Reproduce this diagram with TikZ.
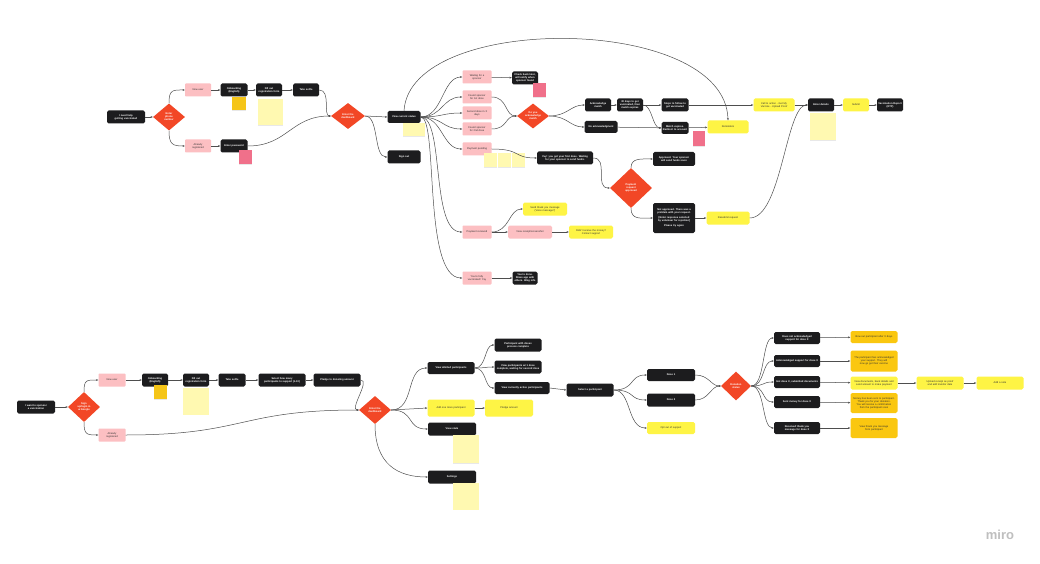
\documentclass[tikz,border=0pt]{standalone}
\usepackage{fontspec}
\setmainfont{Liberation Sans}
\usetikzlibrary{shapes.geometric,arrows.meta,shadows}
\hyphenpenalty=10000
\exhyphenpenalty=10000
\definecolor{ink}{HTML}{1C1C1E}
\definecolor{txt}{HTML}{333333}
\definecolor{pinkbox}{HTML}{FCBFC2}
\definecolor{dred}{HTML}{F24726}
\definecolor{yel}{HTML}{FEF445}
\definecolor{orgy}{HTML}{FAC710}
\definecolor{stky}{HTML}{FFF9B1}
\definecolor{stkp}{HTML}{F0708A}
\definecolor{stko}{HTML}{F5C518}
\definecolor{lgray}{HTML}{4E4E4E}
\tikzset{
  base/.style={rounded corners=1.6pt, align=center, inner xsep=1pt, inner ysep=0.4pt,
    minimum height=13, font=\fontsize{2.55}{3}\selectfont},
  blk/.style={base, fill=ink, text=white, font=\bfseries\fontsize{2.55}{3}\selectfont},
  pnk/.style={base, fill=pinkbox, text=txt, rounded corners=0.8pt},
  yelbox/.style={base, fill=yel, text=txt},
  orgbox/.style={base, fill=orgy, text=txt},
  w/.code={\pgfmathsetlengthmacro\nodetw{#1-2}\pgfkeysalso{text width/.expanded=\nodetw, minimum width=#1}},
  h/.style={minimum height=#1},
  dia/.style 2 args={diamond, fill=dred, text=white, align=center, inner sep=0pt,
    minimum width=#1, minimum height=#2, font=\bfseries\fontsize{2.55}{3}\selectfont},
  stk/.style 2 args={rectangle, inner sep=0pt, minimum width=#1, minimum height=#2,
    drop shadow={opacity=0.18, shadow xshift=0.3pt, shadow yshift=-0.9pt}},
  con/.style={draw=lgray, line width=0.5pt, -{Stealth[length=2.3pt,width=1.9pt]}},
}
\begin{document}
\begin{tikzpicture}[x=1pt,y=-1pt]
\useasboundingbox (0,0) rectangle (1040,564);
\fill[white] (0,0) rectangle (1040,564);

% ---------------- patient journey ----------------
\node[blk, w=38] (loved) at (126,117) {I need help getting vaccinated};
\node[dia={32}{27}] (d1) at (169,117) {Enter\\phone\\number};
\node[pnk, w=26] (newuser1) at (198,90) {New user};
\node[pnk, w=26] (already1) at (198,146) {Already\\registered};
\node[blk, w=27] (onb1) at (234,90) {Onboarding\\(English)};
\node[blk, w=26] (fill1) at (269,90) {Fill out\\registration form};
\node[blk, w=26] (selfie1) at (306,90) {Take selfie};
\node[blk, w=27] (pass1) at (234,146) {Enter password};
\node[stk={14}{13}, fill=stko] (n1) at (239,104) {};
\node[stk={25}{26}, fill=stky] (n2) at (270,112) {};
\node[stk={13}{14}, fill=stkp] (n3) at (245,157) {};

\node[dia={34}{26}] (d2) at (348,116) {Enter the\\dashboard};
\node[blk, w=33, h=12] (status) at (404,117) {View current status};
\node[stk={22}{13}, fill=stky] (n4) at (414,130) {};
\node[blk, w=33] (signout) at (404,157) {Sign out};

\node[pnk, w=29] (waiting) at (477,77) {Waiting for a\\sponsor};
\node[pnk, w=29] (found1) at (477,97) {Found sponsor\\for 1st dose};
\node[pnk, w=29] (second) at (477,113) {Second dose in X\\days};
\node[pnk, w=29] (found2) at (477,129) {Found sponsor\\for 2nd dose};
\node[pnk, w=29] (pending) at (477,149) {Payment pending};
\node[pnk, w=29] (received) at (477,232) {Payment received};
\node[pnk, w=29] (fully) at (477,278) {You're fully\\vaccinated! Yay};

\node[blk, w=26] (check) at (525,78) {Check back later,\\will notify when\\sponsor found};
\node[stk={13}{14}, fill=stkp] (n5) at (539,90) {};
\node[dia={32}{25}] (d3) at (533,116) {Do you\\acknowledge\\match};
\node[blk, w=26] (ack) at (598,105) {Acknowledge\\match};
\node[blk, w=33, h=12] (noack) at (601,127) {No acknowledgment};
\node[blk, w=26] (thirty) at (630,105) {30 days to get\\vaccinated, then\\match expires};
\node[blk, w=27] (steps) at (675,105) {Steps to follow to\\get vaccinated};
\node[blk, w=27, h=12] (expires) at (675,128) {Match expires. Redirect to account};
\node[stk={12}{15}, fill=stkp] (n6) at (699,139) {};
\node[yelbox, w=41] (reminders) at (728,127) {Reminders};
\node[yelbox, w=41] (cta) at (774,105) {Call to action - Get My\\Vaccine - Upload Proof};
\node[blk, w=26] (details) at (821,105) {Enter details};
\node[stk={26}{27}, fill=stky] (n7) at (823,127) {};
\node[yelbox, w=26] (submit) at (856,105) {Submit};
\node[blk, w=26] (report) at (890,105) {Vaccination Report\\(OTP)};

\node[stk={13}{14}, fill=stky] (n8) at (490,160) {};
\node[stk={13}{14}, fill=stky] (n9) at (504,160) {};
\node[stk={13}{14}, fill=stky] (n10) at (518,160) {};
\node[blk, w=56] (yay) at (565,158) {Yay! you got your first dose. Waiting for your sponsor to send funds.};
\node[dia={42}{40}] (d4) at (631,188) {Payment\\request\\approved};
\node[blk, w=42, h=14] (approved) at (674,159) {Approved. Your sponsor will send funds soon};
\node[blk, w=42, h=30] (notapp) at (674,218) {Not approved. There was a problem with your request.\\[2pt][Enter response selected by volunteer for rejection]\\[2pt]Please try again};
\node[yelbox, w=43] (resubmit) at (728,218) {Resubmit request};
\node[yelbox, w=44] (thanks) at (545,209) {Send thank you message\\(Voice message?)};
\node[pnk, w=44, rounded corners=1.6pt] (receipt) at (530,232) {View receipt/screenshot};
\node[yelbox, w=44] (didnt) at (591,232) {Didn't receive the money?\\Contact support};
\node[blk, w=25] (done) at (525,278) {You're done.\\Share app with\\others. Blog info};

% connectors
\draw[con] (loved) -- (d1);
\draw[con] (d1.north) .. controls +(0,-14) and +(-12,0) .. (newuser1.west);
\draw[con] (d1.south) .. controls +(0,14) and +(-12,0) .. (already1.west);
\draw[con] (newuser1) -- (onb1);
\draw[con] (onb1) -- (fill1);
\draw[con] (fill1) -- (selfie1);
\draw[con] (already1) -- (pass1);
\draw[con] (selfie1.east) .. controls +(12,0) and +(-8,0) .. (d2.west);
\draw[con] (pass1.east) .. controls +(40,0) and +(-40,0) .. (d2.west);
\draw[con] (d2.east) -- (status.west);
\draw[con] (d2.east) .. controls +(14,0) and +(-14,0) .. (signout.west);

\draw[con] (status.east) .. controls +(22,0) and +(-20,0) .. (waiting.west);
\draw[con] (status.east) .. controls +(22,0) and +(-20,0) .. (found1.west);
\draw[con] (status.east) .. controls +(22,0) and +(-20,0) .. (second.west);
\draw[con] (status.east) .. controls +(22,0) and +(-20,0) .. (found2.west);
\draw[con] (status.east) .. controls +(22,0) and +(-20,0) .. (pending.west);
\draw[con] (status.east) .. controls +(24,0) and +(-32,0) .. (received.west);
\draw[con] (status.east) .. controls +(18,0) and +(-40,0) .. (fully.west);
\draw[con] (status.north) .. controls (410,12) and (725,14) .. (reminders.north);

\draw[con] (waiting) -- (check);
\draw[con] (found1.east) .. controls +(16,0) and +(-12,0) .. (d3.west);
\draw[con] (found2.east) .. controls +(16,0) and +(-12,0) .. (d3.west);
\draw[con] (d3.east) .. controls +(18,0) and +(-14,0) .. (ack.west);
\draw[con] (d3.east) .. controls +(18,0) and +(-14,0) .. (noack.west);
\draw[con] (ack) -- (thirty);
\draw[con] (thirty) -- (steps);
\draw[con] (thirty.east) .. controls +(9,0) and +(-9,0) .. (expires.west);
\draw[con] (noack) -- (expires);
\draw[con] (expires) -- (reminders);
\draw[con] (steps) -- (cta);
\draw[con] (cta) -- (details);
\draw[con] (details) -- (submit);
\draw[con] (submit) -- (report);
\draw[con] (resubmit.east) .. controls +(32,0) and +(-22,0) .. (details.west);

\draw[con] (pending.east) .. controls +(30,0) and +(-24,0) .. (yay.west);
\draw[con] (yay.east) .. controls +(16,0) and +(-16,0) .. (d4.west);
\draw[con] (d4.north) .. controls +(0,-10) and +(-12,0) .. (approved.west);
\draw[con] (d4.south) .. controls +(0,12) and +(-12,0) .. (notapp.west);
\draw[con] (notapp) -- (resubmit);
\draw[con] (received.east) .. controls +(18,0) and +(-14,0) .. (thanks.west);
\draw[con] (received) -- (receipt);
\draw[con] (receipt) -- (didnt);
\draw[con] (fully) -- (done);

% ---------------- sponsor journey ----------------
\node[blk, w=38] (sponsor) at (36,407) {I want to sponsor a vaccination};
\node[dia={32}{30}] (d5) at (84,407) {Sign\\up/login in\\w Google};
\node[pnk, w=27] (newuser2) at (112,380) {New user};
\node[pnk, w=27] (already2) at (112,435) {Already\\registered};
\node[blk, w=26] (onb2) at (155,380) {Onboarding\\(English)};
\node[stk={13}{14}, fill=stko] (n11) at (160,392) {};
\node[blk, w=26] (fill2) at (196,380) {Fill out\\registration form};
\node[stk={26}{27}, fill=stky] (n12) at (196,401) {};
\node[blk, w=27] (selfie2) at (232,380) {Take selfie};
\node[blk, w=47] (howmany) at (282,380) {Select how many participants to support (1-10)};
\node[blk, w=47] (pledge) at (337,380) {Pledge to donating amount};
\node[dia={32}{28}] (d6) at (375,410) {Enter the\\dashboard};

\node[blk, w=47, h=12] (allot) at (451,368) {View allotted participants};
\node[blk, w=47] (complete) at (518,345) {Participant with doses process complete};
\node[blk, w=47] (onedose) at (518,367) {View participants w/ 1 dose complete, waiting for second dose};
\node[blk, w=55, h=12] (active) at (522,388) {View currently active participants};
\node[blk, w=47] (selectp) at (590,390) {Select a participant};
\node[yelbox, w=47, h=17] (addone) at (451,408) {Add one more participant};
\node[yelbox, w=48, h=17] (pledgeamt) at (509,408) {Pledge amount};
\node[blk, w=48] (stats) at (452,429) {View stats};
\node[stk={26}{28}, fill=stky] (n13) at (466,449) {};
\node[blk, w=48] (settings) at (452,477) {Settings};
\node[stk={26}{27}, fill=stky] (n14) at (466,496) {};

\node[blk, w=48, h=12] (dose1) at (671,375) {Dose 1};
\node[blk, w=48] (dose2) at (671,400) {Dose 2};
\node[yelbox, w=48, h=12] (optout) at (671,428) {Opt out of support};
\node[dia={30}{29}] (d7) at (736,386) {Donation\\status};

\node[blk, w=46, h=12] (s1) at (797,338) {Does not acknowledged support for dose X};
\node[blk, w=46, h=12] (s2) at (797,361) {Acknowledged support for dose X};
\node[blk, w=46, h=12] (s3) at (797,382) {Got dose X, submitted documents};
\node[blk, w=46, h=12] (s4) at (797,402) {Sent money for dose X};
\node[blk, w=46, h=12] (s5) at (797,428) {Received thank you message for dose X};
\node[orgbox, w=47, h=12] (r1) at (874,337) {Bow out participant after X days};
\node[orgbox, w=47, h=21] (r2) at (874,361) {The participant has acknowledged your support. They will now go get their vaccine};
\node[yelbox, w=47, h=13] (r3) at (874,383) {View documents, bank details and send amount to make payment};
\node[orgbox, w=47, h=20] (r4) at (874,403) {Money has been sent to participant. Thank you for your donation. You will receive a confirmation from the participant soon};
\node[orgbox, w=47, h=20] (r5) at (874,428) {View thank you message from participant};
\node[yelbox, w=47] (upload) at (940,383) {Upload receipt as proof and add transfer date};
\node[yelbox, w=47] (note) at (1000,383) {Add a note};

% connectors
\draw[con] (sponsor) -- (d5);
\draw[con] (d5.north) .. controls +(0,-12) and +(-12,0) .. (newuser2.west);
\draw[con] (d5.south) .. controls +(0,12) and +(-12,0) .. (already2.west);
\draw[con] (newuser2) -- (onb2);
\draw[con] (onb2) -- (fill2);
\draw[con] (fill2) -- (selfie2);
\draw[con] (selfie2) -- (howmany);
\draw[con] (howmany) -- (pledge);
\draw[con] (pledge.east) .. controls +(10,0) and +(-10,0) .. (d6.west);
\draw[con] (already2.east) .. controls +(120,0) and +(-120,0) .. (d6.west);
\draw[con] (d6.east) .. controls +(24,0) and +(-22,0) .. (allot.west);
\draw[con] (d6.east) -- (addone.west);
\draw[con] (d6.east) .. controls +(24,0) and +(-22,0) .. (stats.west);
\draw[con] (d6.south) .. controls +(0,40) and +(-30,0) .. (settings.west);
\draw[con] (allot.east) .. controls +(12,0) and +(-10,0) .. (complete.west);
\draw[con] (allot.east) .. controls +(12,0) and +(-10,0) .. (onedose.west);
\draw[con] (allot.east) .. controls +(12,0) and +(-10,0) .. (active.west);
\draw[con] (addone) -- (pledgeamt);
\draw[con] (active.east) -- (selectp.west);
\draw[con] (selectp.east) .. controls +(22,0) and +(-18,0) .. (dose1.west);
\draw[con] (selectp.east) .. controls +(22,0) and +(-18,0) .. (dose2.west);
\draw[con] (selectp.east) .. controls +(18,0) and +(-20,0) .. (optout.west);
\draw[con] (dose1.east) .. controls +(14,0) and +(-10,0) .. (d7.west);
\draw[con] (dose2.east) .. controls +(14,0) and +(-10,0) .. (d7.west);
\foreach \s in {s1,s2,s3,s4,s5}
  \draw[con] (d7.east) .. controls +(14,0) and +(-12,0) .. (\s.west);
\draw[con] (s1) -- (r1);
\draw[con] (s2) -- (r2);
\draw[con] (s3) -- (r3);
\draw[con] (s4) -- (r4);
\draw[con] (s5) -- (r5);
\draw[con] (r3) -- (upload);
\draw[con] (upload) -- (note);

\node[text=black!25, font=\bfseries\fontsize{13}{13}\selectfont] (logo) at (1000,535) {miro};
\end{tikzpicture}
\end{document}
